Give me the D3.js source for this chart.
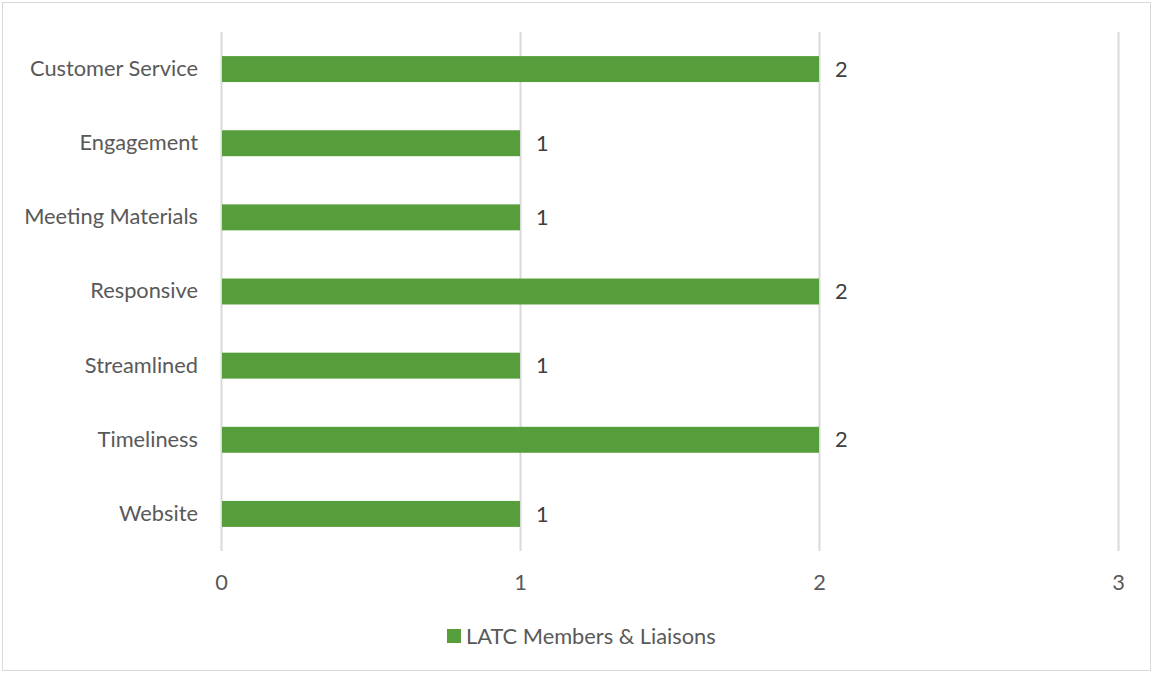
<!DOCTYPE html>
<html>
<head>
<meta charset="utf-8">
<script src="https://cdn.jsdelivr.net/npm/d3@7"></script>
<style>
  body { margin: 0; background: #fff; }
  svg { font-family: Lato, "Open Sans", sans-serif; }
</style>
</head>
<body>
<svg width="1153" height="673"></svg>
<script>
// data
var categories = ["Customer Service", "Engagement", "Meeting Materials", "Responsive", "Streamlined", "Timeliness", "Website"];
var values = [2, 1, 1, 2, 1, 2, 1];
var xTicks = [0, 1, 2, 3];
var seriesName = "LATC Members & Liaisons";

var svg = d3.select("svg"),
    margin = {top: 32, right: 35, bottom: 122, left: 221},
    width = +svg.attr("width") - margin.left - margin.right,
    height = +svg.attr("height") - margin.top - margin.bottom;

var green = "#559E3B";
var fontSize = "21.8px";

// outer border
svg.append("rect")
    .attr("x", 2.5).attr("y", 2.5)
    .attr("width", 1148).attr("height", 668)
    .attr("fill", "none")
    .attr("stroke", "#d9d9d9");

var x = d3.scaleLinear().domain([0, 3]).range([0, 897]);
var y = d3.scaleBand().domain(categories).range([0, height]).paddingInner(0.65).paddingOuter(0.325);

var g = svg.append("g")
    .attr("transform", "translate(" + margin.left + "," + margin.top + ")");

// gridlines
g.selectAll(".grid")
    .data(xTicks)
    .enter().append("line")
    .attr("x1", function(d) { return x(d) + 0.5; })
    .attr("x2", function(d) { return x(d) + 0.5; })
    .attr("y1", 0)
    .attr("y2", height)
    .attr("stroke", "#d9d9d9")
    .attr("stroke-width", 2);

// bars
g.selectAll(".bar")
    .data(values)
    .enter().append("rect")
    .attr("class", "bar")
    .attr("x", x(0) + 1)
    .attr("y", function(d, i) { return y(categories[i]); })
    .attr("width", function(d) { return x(d) - x(0) - 1; })
    .attr("height", y.bandwidth())
    .attr("fill", green);

// value labels
g.selectAll(".val")
    .data(values)
    .enter().append("text")
    .attr("x", function(d) { return x(d) + 16; })
    .attr("y", function(d, i) { return y(categories[i]) + y.bandwidth() / 2; })
    .attr("dy", "0.35em")
    .style("font-size", fontSize)
    .style("fill", "#404040")
    .text(function(d) { return d; });

// y axis labels
var yAxis = g.append("g")
    .call(d3.axisLeft(y).tickSize(0).tickPadding(23));
yAxis.select(".domain").remove();
yAxis.selectAll("text")
    .style("font-size", fontSize)
    .style("font-family", "Lato, 'Open Sans', sans-serif")
    .style("fill", "#595959");

// x axis labels
var xAxis = g.append("g")
    .attr("transform", "translate(0," + height + ")")
    .call(d3.axisBottom(x).tickValues(xTicks).tickFormat(d3.format("d")).tickSize(0).tickPadding(24));
xAxis.select(".domain").remove();
xAxis.selectAll("text")
    .style("font-size", fontSize)
    .style("font-family", "Lato, 'Open Sans', sans-serif")
    .style("fill", "#595959");

// legend
var legend = svg.append("g").attr("transform", "translate(447,629)");
legend.append("rect")
    .attr("width", 14).attr("height", 14)
    .attr("fill", green);
legend.append("text")
    .attr("x", 19).attr("y", 7)
    .attr("dy", "0.35em")
    .style("font-size", fontSize)
    .style("fill", "#595959")
    .text(seriesName);
</script>
</body>
</html>
